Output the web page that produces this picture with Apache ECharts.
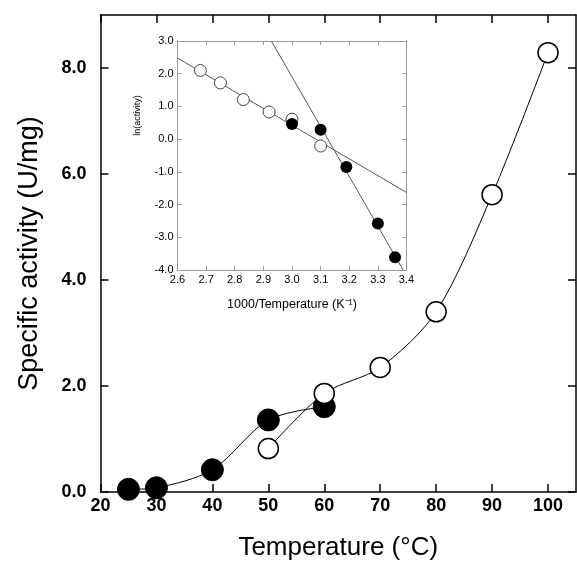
<!DOCTYPE html>
<html>
<head>
<meta charset="utf-8">
<script src="https://cdn.jsdelivr.net/npm/echarts@6/dist/echarts.min.js"></script>
<style>
html,body{margin:0;padding:0;background:#fff;}
#chart{width:577px;height:561px;}
</style>
</head>
<body>
<div id="chart"></div>
<script>
// Main chart data
const tempFilled = [25, 30, 40, 50, 60];
const actFilled = [0.05, 0.08, 0.42, 1.36, 1.61];
const tempOpen = [50, 60, 70, 80, 90, 100];
const actOpen = [0.82, 1.86, 2.35, 3.40, 5.61, 8.29];
const mainXTicks = [20, 30, 40, 50, 60, 70, 80, 90, 100];
const mainYTicks = [0, 2, 4, 6, 8];

// Inset (Arrhenius) data
const invTFilled = [3.00, 3.10, 3.19, 3.30, 3.36];
const lnFilled = [0.46, 0.29, -0.85, -2.58, -3.61];
const invTOpen = [2.68, 2.75, 2.83, 2.92, 3.00, 3.10];
const lnOpen = [2.10, 1.72, 1.21, 0.83, 0.61, -0.21];
const fitOpenX = [2.6, 3.4];
const fitOpenY = [2.48, -1.63];
const fitFilledX = [2.928, 3.388];
const fitFilledY = [3.0, -4.0];
const insetXTicks = [2.6, 2.7, 2.8, 2.9, 3.0, 3.1, 3.2, 3.3, 3.4];
const insetYTicks = [-4, -3, -2, -1, 0, 1, 2, 3];

const pair = (xs, ys) => xs.map((x, i) => [x, ys[i]]);
const FONT = '"Liberation Sans", Arial, Helvetica, sans-serif';

function mkAxis(o) {
  return Object.assign({
    type: 'value',
    splitLine: { show: false },
    axisLine: { show: true, onZero: false, lineStyle: { color: '#000', width: 1.5 } },
    axisTick: { show: true, inside: true, length: 8, lineStyle: { color: '#000', width: 1.5 } },
    axisLabel: { show: false }
  }, o);
}

const chart = echarts.init(document.getElementById('chart'), null, { renderer: 'canvas' });

const mainLabel = { show: true, fontFamily: FONT, fontWeight: 'bold', fontSize: 18, color: '#000' };
const insetLine = { show: true, onZero: false, lineStyle: { color: '#999', width: 1 } };
const insetTick = { show: true, inside: true, length: 4, lineStyle: { color: '#999', width: 1 } };
const insetLabel = { show: true, fontFamily: FONT, fontSize: 11, color: '#000', margin: 4 };

const option = {
  backgroundColor: '#fff',
  animation: false,
  grid: [
    { left: 100.5, right: 1, top: 15, bottom: 69, containLabel: false, outerBoundsMode: 'none' },
    { left: 177.5, right: 170.5, top: 41, bottom: 291, show: false, containLabel: false, outerBoundsMode: 'none' }
  ],
  xAxis: [
    mkAxis({
      gridIndex: 0, min: 20, max: 105, position: 'bottom',
      axisTick: { show: true, inside: true, length: 8, customValues: mainXTicks, lineStyle: { color: '#000', width: 1.5 } },
      axisLabel: Object.assign({}, mainLabel, { customValues: mainXTicks, margin: 5 }),
      name: 'Temperature (°C)', nameLocation: 'middle', nameGap: 43,
      nameTextStyle: { fontFamily: FONT, fontSize: 26, color: '#000' }
    }),
    mkAxis({
      gridIndex: 0, min: 20, max: 105, position: 'top',
      axisTick: { show: true, inside: true, length: 8, customValues: mainXTicks, lineStyle: { color: '#000', width: 1.5 } }
    }),
    {
      type: 'value', gridIndex: 1, min: 2.6, max: 3.4, position: 'bottom',
      splitLine: { show: false }, axisLine: insetLine,
      axisTick: Object.assign({}, insetTick, { customValues: insetXTicks }),
      axisLabel: Object.assign({}, insetLabel, { customValues: insetXTicks, formatter: v => v.toFixed(1) }),
      name: '1000/Temperature (K⁻¹)', nameLocation: 'middle', nameGap: 28,
      nameTextStyle: { fontFamily: FONT, fontSize: 12.5, color: '#000' }
    },
    {
      type: 'value', gridIndex: 1, min: 2.6, max: 3.4, position: 'top',
      splitLine: { show: false }, axisLine: insetLine,
      axisTick: Object.assign({}, insetTick, { customValues: insetXTicks }),
      axisLabel: { show: false }
    }
  ],
  yAxis: [
    mkAxis({
      gridIndex: 0, min: 0, max: 9, position: 'left',
      axisTick: { show: true, inside: true, length: 8, customValues: mainYTicks, lineStyle: { color: '#000', width: 1.5 } },
      axisLabel: Object.assign({}, mainLabel, { customValues: mainYTicks, margin: 14, formatter: v => v.toFixed(1) }),
      name: 'Specific activity (U/mg)', nameLocation: 'middle', nameGap: 57,
      nameTextStyle: { fontFamily: FONT, fontSize: 27, color: '#000' }
    }),
    mkAxis({
      gridIndex: 0, min: 0, max: 9, position: 'right',
      axisTick: { show: true, inside: true, length: 8, customValues: mainYTicks, lineStyle: { color: '#000', width: 1.5 } }
    }),
    {
      type: 'value', gridIndex: 1, min: -4, max: 3, position: 'left',
      splitLine: { show: false }, axisLine: insetLine,
      axisTick: Object.assign({}, insetTick, { customValues: insetYTicks }),
      axisLabel: Object.assign({}, insetLabel, { customValues: insetYTicks, formatter: v => v.toFixed(1) }),
      name: 'ln(activity)', nameLocation: 'middle', nameGap: 35,
      nameTextStyle: { fontFamily: FONT, fontSize: 9, color: '#000', padding: [0, 0, 0, 80] }
    },
    {
      type: 'value', gridIndex: 1, min: -4, max: 3, position: 'right',
      splitLine: { show: false }, axisLine: insetLine,
      axisTick: Object.assign({}, insetTick, { customValues: insetYTicks }),
      axisLabel: { show: false }
    }
  ],
  series: [
    {
      type: 'line', xAxisIndex: 0, yAxisIndex: 0, z: 3,
      data: pair(tempFilled, actFilled), smooth: 0.3,
      symbol: 'circle', symbolSize: 22,
      lineStyle: { color: '#000', width: 1 },
      itemStyle: { color: '#000', borderColor: '#000', borderWidth: 1, opacity: 1 }
    },
    {
      type: 'line', xAxisIndex: 0, yAxisIndex: 0, z: 4,
      data: pair(tempOpen, actOpen), smooth: 0.3,
      symbol: 'circle', symbolSize: 20,
      lineStyle: { color: '#000', width: 1 },
      itemStyle: { color: '#fff', borderColor: '#000', borderWidth: 1.5, opacity: 1 }
    },
    {
      type: 'line', xAxisIndex: 2, yAxisIndex: 2, z: 3,
      data: pair(fitOpenX, fitOpenY), symbol: 'none',
      lineStyle: { color: '#555', width: 1 }
    },
    {
      type: 'line', xAxisIndex: 2, yAxisIndex: 2, z: 3,
      data: pair(fitFilledX, fitFilledY), symbol: 'none',
      lineStyle: { color: '#555', width: 1 }
    },
    {
      type: 'scatter', xAxisIndex: 2, yAxisIndex: 2, z: 4,
      data: pair(invTOpen, lnOpen), symbol: 'circle', symbolSize: 12,
      itemStyle: { color: '#fff', borderColor: '#444', borderWidth: 1, opacity: 1 }
    },
    {
      type: 'scatter', xAxisIndex: 2, yAxisIndex: 2, z: 5,
      data: pair(invTFilled, lnFilled), symbol: 'circle', symbolSize: 12,
      itemStyle: { color: '#000', opacity: 1 }
    }
  ]
};
chart.setOption(option);
</script>
</body>
</html>
